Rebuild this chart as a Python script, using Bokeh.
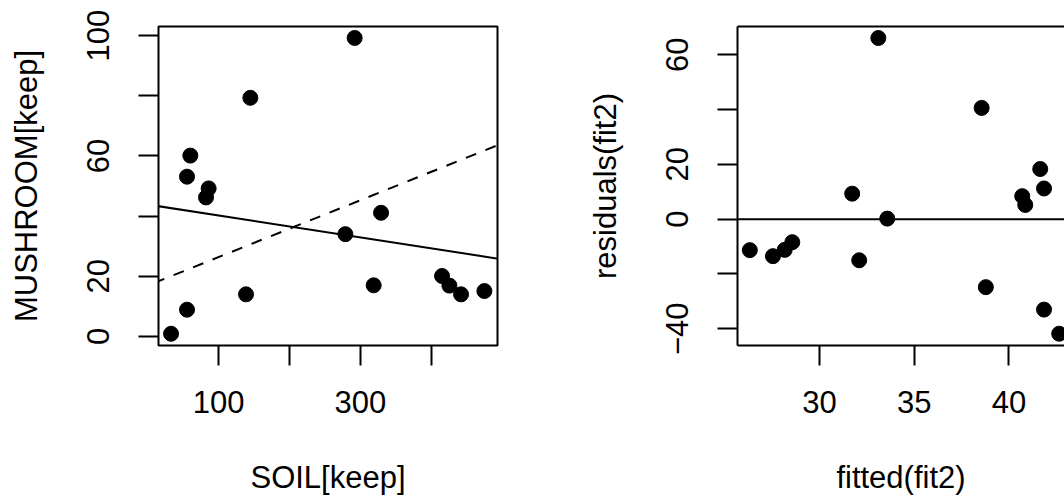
from bokeh.plotting import figure
from bokeh.layouts import row
from bokeh.models import FixedTicker, Slope, Span, LinearAxis, Range1d
from bokeh.embed import file_html
from bokeh.resources import INLINE

# ---- data (left panel) ----
soil = [32.9, 55.4, 55.4, 60.1, 82.2, 85.9, 138.6, 144.7, 278.7, 291.8,
        318.6, 329.0, 415.0, 425.4, 441.8, 474.7]
mushroom = [0.9, 8.9, 53.1, 60.1, 46.2, 49.2, 14.0, 79.3, 34.0, 99.2,
            17.0, 41.1, 20.1, 16.9, 14.0, 15.1]
fit_solid = {"intercept": 43.84, "slope": -0.0364}
fit_dashed = {"intercept": 16.93, "slope": 0.0945}
x1_ticks = [100, 200, 300, 400]
x1_labels = {100: "100", 200: "", 300: "300", 400: ""}
y1_ticks = [0, 20, 40, 60, 80, 100]
y1_labels = {0: "0", 20: "20", 40: "", 60: "60", 80: "", 100: "100"}

# ---- data (right panel) ----
fitted = [26.33, 27.55, 28.17, 28.57, 31.73, 32.10, 33.11, 33.58, 38.56, 38.78,
          40.70, 40.86, 41.65, 41.85, 41.85, 42.65]
resid = [-11.3, -13.5, -11.2, -8.4, 9.3, -15.0, 66.1, 0.2, 40.6, -24.8,
         8.4, 5.2, 18.3, 11.2, -33.0, -41.8]
x2_ticks = [30, 35, 40, 45]
y2_ticks = [-40, -20, 0, 20, 40, 60]
y2_labels = {-40: "\u221240", -20: "", 0: "0", 20: "20", 40: "", 60: "60"}

FONT = "Liberation Sans"
FS = "31px"


def style_axis(ax, orient_vertical=False):
    ax.axis_line_color = None
    ax.major_tick_line_color = "black"
    ax.major_tick_line_width = 2
    ax.major_tick_in = 0
    ax.major_tick_out = 20
    ax.minor_tick_line_color = None
    ax.major_label_text_font = FONT
    ax.major_label_text_font_size = FS
    ax.major_label_text_color = "black"
    ax.axis_label_text_font = FONT
    ax.axis_label_text_font_size = FS
    ax.axis_label_text_font_style = "normal"
    ax.axis_label_text_color = "black"
    if orient_vertical:
        ax.major_label_orientation = "vertical"
        ax.major_label_standoff = 29
        ax.axis_label_standoff = 41
    else:
        ax.major_label_standoff = 25
        ax.axis_label_standoff = 44


H = 498

# ---- left panel ----
p1 = figure(width=584, height=H, output_backend="svg", toolbar_location=None,
            x_range=Range1d(15.2, 493.2), y_range=Range1d(-3.0, 103.0),
            min_border_left=158, min_border_right=87, min_border_top=26,
            min_border_bottom=H - 345, x_axis_label="SOIL[keep]",
            y_axis_label="MUSHROOM[keep]")
p1.grid.visible = False
p1.outline_line_color = "black"
p1.outline_line_width = 2
p1.background_fill_color = "white"
p1.border_fill_color = "white"
p1.xaxis.ticker = FixedTicker(ticks=x1_ticks)
p1.xaxis.major_label_overrides = x1_labels
p1.yaxis.ticker = FixedTicker(ticks=y1_ticks)
p1.yaxis.major_label_overrides = y1_labels
style_axis(p1.xaxis[0])
style_axis(p1.yaxis[0], orient_vertical=True)

p1.scatter(soil, mushroom, size=15, color="black")
p1.add_layout(Slope(gradient=fit_solid["slope"], y_intercept=fit_solid["intercept"],
                    line_color="black", line_width=2))
p1.add_layout(Slope(gradient=fit_dashed["slope"], y_intercept=fit_dashed["intercept"],
                    line_color="black", line_width=2, line_dash="11 10"))

# ---- right panel (cut off at the right edge like the reference) ----
p2 = figure(width=480, height=H, output_backend="svg", toolbar_location=None,
            x_range=Range1d(25.68, 42.93), y_range=Range1d(-46.1, 70.3),
            min_border_left=150, min_border_right=0, min_border_top=26,
            min_border_bottom=H - 345, x_axis_label="fitted(fit2)",
            y_axis_label="residuals(fit2)")
p2.grid.visible = False
p2.outline_line_color = None
p2.background_fill_color = "white"
p2.border_fill_color = "white"
p2.xaxis.ticker = FixedTicker(ticks=x2_ticks)
p2.yaxis.ticker = FixedTicker(ticks=y2_ticks)
p2.yaxis.major_label_overrides = y2_labels
style_axis(p2.xaxis[0])
style_axis(p2.yaxis[0], orient_vertical=True)
p2.xaxis.axis_line_color = "black"
p2.xaxis.axis_line_width = 2
p2.yaxis.axis_line_color = "black"
p2.yaxis.axis_line_width = 2

top_axis = LinearAxis(ticker=FixedTicker(ticks=[]), axis_line_color="black",
                      axis_line_width=2, major_tick_line_color=None,
                      minor_tick_line_color=None, major_label_text_font_size="0px",
                      major_label_standoff=0)
p2.add_layout(top_axis, "above")

p2.scatter(fitted, resid, size=15, color="black")
p2.add_layout(Span(location=0, dimension="width", line_color="black", line_width=2))

layout = row(p1, p2)
open("out.html", "w").write(file_html(layout, INLINE))
